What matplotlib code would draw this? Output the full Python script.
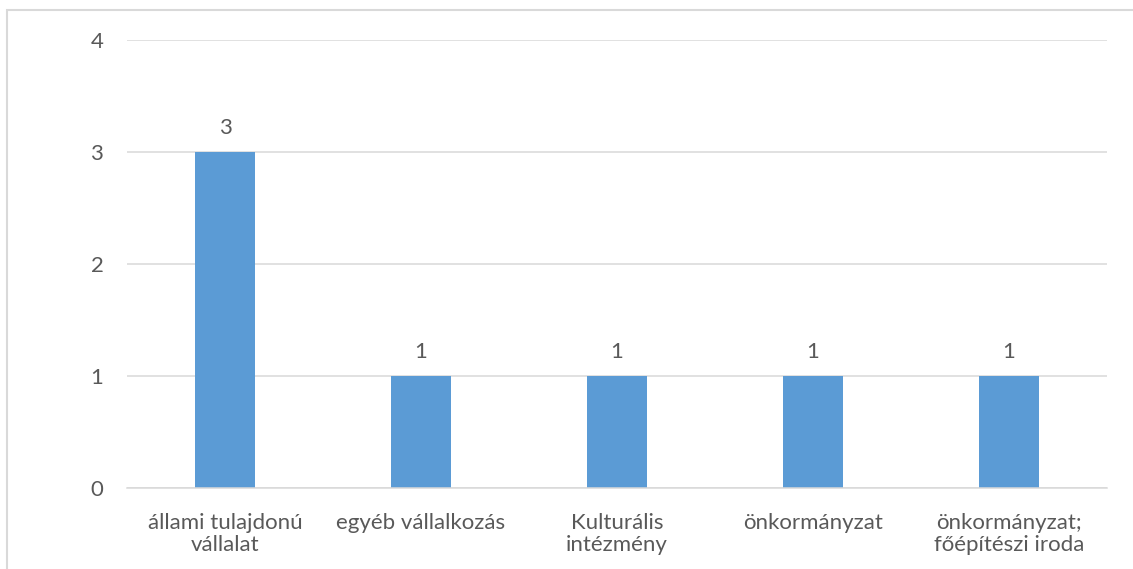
import matplotlib
matplotlib.use("Agg")
import matplotlib.pyplot as plt
from matplotlib.patches import Rectangle

categories = ["állami tulajdonú\nvállalat", "egyéb vállalkozás", "Kulturális\nintézmény",
              "önkormányzat", "önkormányzat;\nfőépítészi iroda"]
values = [3, 1, 1, 1, 1]
yticks = [0, 1, 2, 3, 4]

plt.rcParams['font.family'] = ['Lato', 'DejaVu Sans']
txt = '#595959'
grid = '#d9d9d9'
bar_c = '#5b9bd5'
fs = 16

fig = plt.figure(figsize=(11.33, 5.69), dpi=100)
ax = fig.add_axes([127/1133, 1-488/569, 980/1133, 448/569])

x = list(range(len(categories)))
ax.bar(x, values, width=0.31, color=bar_c, zorder=3)
ax.set_xlim(-0.5, len(categories)-0.5)
ax.set_ylim(0, 4)
ax.set_yticks(yticks)
ax.set_yticklabels([str(t) for t in yticks], fontsize=fs, color=txt)
ax.set_xticks(x)
ax.set_xticklabels(categories, fontsize=fs, color=txt, linespacing=1.12)
ax.tick_params(axis='both', length=0)
ax.tick_params(axis='y', pad=17)
ax.tick_params(axis='x', pad=18)
ax.yaxis.grid(True, color=grid, linewidth=1.1, zorder=0)
for s in ['top', 'right', 'left']:
    ax.spines[s].set_visible(False)
ax.spines['bottom'].set_color(grid)
ax.spines['bottom'].set_linewidth(1.1)
ax.spines['bottom'].set_zorder(4)

for xi, v in zip(x, values):
    ax.annotate(str(v), (xi, v), xytext=(0, 10), textcoords='offset points',
                ha='center', va='bottom', fontsize=fs, color=txt)

fig.patches.append(Rectangle((7/1133, -0.1), 1.2, (569-10)/569 + 0.1,
                             transform=fig.transFigure, fill=False,
                             edgecolor=grid, linewidth=1.5))

fig.savefig("out.png", dpi=100)
